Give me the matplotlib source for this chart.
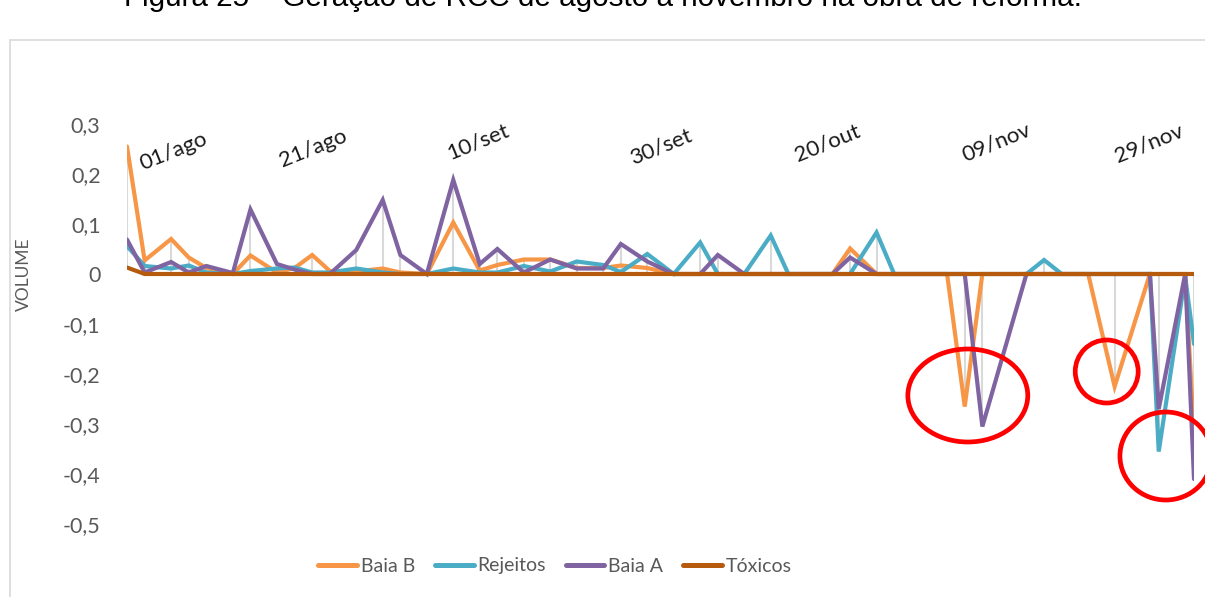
import matplotlib.pyplot as plt
from matplotlib.patches import Ellipse, Rectangle

# dias contados a partir do primeiro registro
dias = [0, 2, 5, 7, 9, 12, 14, 17, 19, 21, 23, 26, 29, 31, 34, 37, 40, 42, 45, 48,
        51, 54, 56, 59, 62, 65, 67, 70, 73, 75, 80, 82, 85, 87, 93, 95, 97, 102, 104,
        106, 109, 112, 116, 117, 120, 121]

baia_b = [0.255, 0.027, 0.070, 0.033, 0.012, 0.0, 0.037, 0.003, 0.012, 0.038,
          0.006, 0.005, 0.011, 0.003, 0.0, 0.103, 0.007, 0.018, 0.029, 0.029,
          0.012, 0.012, 0.017, 0.012, 0.0, 0.0, 0.0, 0.0, 0.0, 0.0,
          0.0, 0.051, 0.0, 0.0, 0.0, -0.265, 0.0, 0.0, 0.0, 0.0,
          0.0, -0.225, 0.0, 0.0, 0.0, -0.32]
rejeitos = [0.056, 0.016, 0.011, 0.017, 0.003, 0.0, 0.006, 0.011, 0.013, 0.003,
            0.003, 0.011, 0.003, 0.0, 0.0, 0.011, 0.003, 0.003, 0.016, 0.005,
            0.025, 0.018, 0.004, 0.040, 0.0, 0.063, 0.0, 0.0, 0.077, 0.0,
            0.0, 0.0, 0.083, 0.0, 0.0, 0.0, 0.0, 0.0, 0.028, 0.0,
            0.0, 0.0, 0.0, -0.355, -0.005, -0.14]
baia_a = [0.069, 0.003, 0.024, 0.003, 0.016, 0.002, 0.129, 0.020, 0.009, 0.0,
          0.0, 0.048, 0.148, 0.038, 0.0, 0.188, 0.020, 0.050, 0.003, 0.029,
          0.011, 0.011, 0.060, 0.025, 0.0, 0.0, 0.038, 0.0, 0.0, 0.0,
          0.0, 0.033, 0.0, 0.0, 0.0, 0.0, -0.305, 0.0, 0.0, 0.0,
          0.0, 0.0, 0.0, -0.27, 0.0, -0.41]
toxicos = [0.013] + [0.0] * 45

rotulos = ['01/ago', '21/ago', '10/set', '30/set', '20/out', '09/nov', '29/nov']
rotulos_x = [1.8, 17.6, 36.6, 57.4, 76.1, 95.0, 112.4]
rotulos_y = [0.208, 0.214, 0.228, 0.218, 0.224, 0.224, 0.222]

series = [('Baia B', baia_b, '#F79646'),
          ('Rejeitos', rejeitos, '#4BACC6'),
          ('Baia A', baia_a, '#8064A2'),
          ('Tóxicos', toxicos, '#B65A0E')]

W, H = 1205, 597
fig = plt.figure(figsize=(W / 100, H / 100), dpi=100)
ax = fig.add_axes([127 / W, 1 - 524 / H, (1194 - 127) / W, 400 / H])

# linhas de máximo/mínimo em cada data
vals = list(zip(baia_b, rejeitos, baia_a, toxicos))
ax.vlines(dias, [min(v) for v in vals], [max(v) for v in vals],
          color='#D9D9D9', lw=1.5, zorder=1)

for nome, y, cor in series:
    ax.plot(dias, y, color=cor, lw=3.0, label=nome, zorder=2,
            solid_joinstyle='miter', solid_capstyle='round')

ax.set_xlim(0, dias[-1])
ax.set_ylim(-0.5, 0.3)
ax.set_yticks([0.3, 0.2, 0.1, 0, -0.1, -0.2, -0.3, -0.4, -0.5])
ax.set_yticklabels(['0,3', '0,2', '0,1', '0', '-0,1', '-0,2', '-0,3', '-0,4', '-0,5'],
                   family='Lato', fontsize=15.5, color='#595959')
ax.tick_params(axis='y', length=0, pad=19)
ax.set_xticks([])
for s in ax.spines.values():
    s.set_visible(False)

ax.set_ylabel('VOLUME', family='Lato', fontsize=12.5, color='#595959')
ax.yaxis.set_label_coords(-0.089, 0.625)

for txt, x, y in zip(rotulos, rotulos_x, rotulos_y):
    ax.text(x, y, txt, rotation=22, rotation_mode='anchor', ha='left',
            va='baseline', family='Lato', fontsize=16, color='#1a1a1a', clip_on=False)

# destaques em vermelho
for cx, cy, w, h in [(95.35, -0.243, 13.6, 0.186), (111.1, -0.195, 7.14, 0.126),
                     (117.8, -0.364, 10.4, 0.176)]:
    ax.add_patch(Ellipse((cx, cy), w, h, fill=False, ec='#FF0000', lw=3.4,
                         clip_on=False, zorder=5))

leg = fig.legend(loc='center', bbox_to_anchor=(555 / W, 1 - 566 / H), ncol=4,
                 frameon=False, prop={'family': 'Lato', 'size': 14},
                 handlelength=2.0, handletextpad=0.2, columnspacing=1.0)
for t in leg.get_texts():
    t.set_color('#595959')
for l in leg.get_lines():
    l.set_linewidth(3.6)

fig.patches.append(Rectangle((10 / W, -0.1), 1.2, 1.1 - 40 / H, transform=fig.transFigure,
                             fill=False, ec='#D9D9D9', lw=1.2))
fig.text(0.5, 1 - 6 / H, 'Figura 25 – Geração de RCC de agosto a novembro na obra de reforma.',
         ha='center', va='baseline', family='Liberation Sans', fontsize=21.3, color='#000000')

fig.savefig('out.png', dpi=100)
